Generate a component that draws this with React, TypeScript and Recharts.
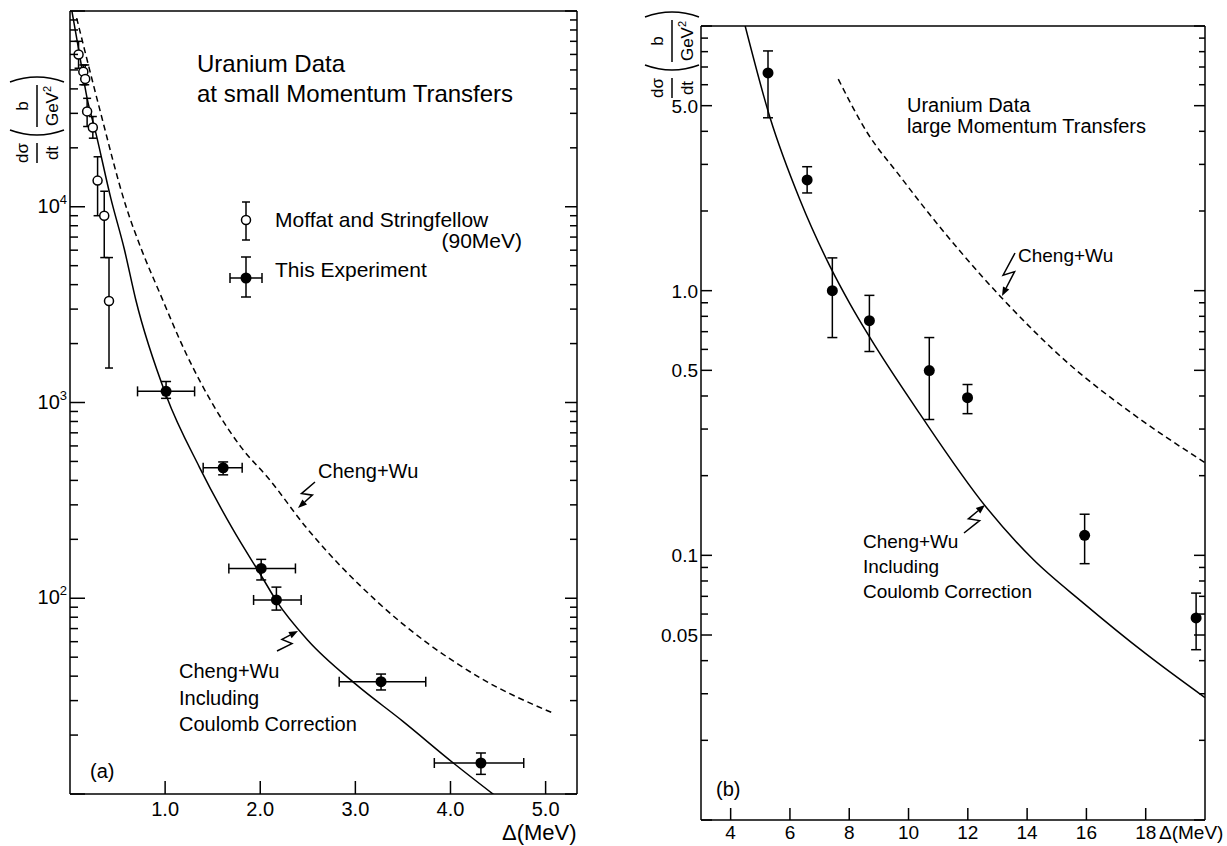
import React from "react";
import { ComposedChart, Line, Scatter, ErrorBar, XAxis, YAxis } from "recharts";

const FONT = "'Liberation Sans', Arial, sans-serif";

// ---- panel (a): small momentum transfers ----
const expAX = [1.01, 1.61, 2.01, 2.17, 3.27, 4.32];
const expAXLo = [0.71, 1.4, 1.67, 1.93, 2.83, 3.83];
const expAXHi = [1.31, 1.81, 2.37, 2.43, 3.74, 4.77];
const expAY = [1140, 464, 142, 98, 37.5, 14.4];
const expAYLo = [1050, 427, 124, 87, 34, 12.6];
const expAYHi = [1280, 497, 158, 114, 41, 16.2];

const moffatX = [0.09, 0.14, 0.16, 0.18, 0.24, 0.29, 0.36, 0.41];
const moffatY = [60000, 49000, 45000, 30700, 25400, 13600, 8990, 3300];
const moffatLo = [51000, 42000, 42000, 25700, 22400, 9000, 5500, 1500];
const moffatHi = [70000, 53000, 53000, 35800, 28900, 18000, 12000, 5500];

const coulombAX = [0.02, 0.09, 0.18, 0.27, 0.43, 0.57, 0.69, 1.01, 1.36, 1.71, 2.02, 2.17, 2.5, 3.0, 3.5, 4.03, 4.47];
const coulombAY = [100000, 64000, 35800, 24000, 11000, 6100, 3370, 1090, 468, 226, 128, 97, 61, 36.5, 23.5, 14.4, 9.8];
const chengWuAX = [0.07, 0.31, 0.59, 0.76, 0.94, 1.22, 1.54, 1.8, 2.09, 2.48, 3.22, 4.32, 5.07];
const chengWuAY = [92000, 31800, 10000, 5900, 3660, 1780, 910, 590, 408, 231, 97, 39, 26];

const xTicksA = [1, 2, 3, 4, 5];
const xLabelsA = ["1.0", "2.0", "3.0", "4.0", "5.0"];
const yDecadesA = [10, 100, 1000, 10000];
const yLabelsA = [100, 1000, 10000];

// ---- panel (b): large momentum transfers ----
const expBX = [5.26, 6.58, 7.43, 8.68, 10.7, 11.99, 15.94, 19.7];
const expBY = [6.65, 2.62, 1.0, 0.77, 0.499, 0.394, 0.119, 0.058];
const expBLo = [4.5, 2.34, 0.665, 0.589, 0.326, 0.343, 0.093, 0.044];
const expBHi = [8.05, 2.94, 1.33, 0.96, 0.665, 0.442, 0.143, 0.072];

const coulombBX = [4.49, 5.33, 6.34, 7.36, 8.03, 8.68, 10.4, 12.6, 14.2, 15.9, 18.0, 20.0];
const coulombBY = [10, 4.5, 2.2, 1.23, 0.89, 0.67, 0.34, 0.153, 0.0966, 0.066, 0.0425, 0.029];
const chengWuBX = [7.63, 8.61, 9.72, 10.4, 13.2, 15.36, 17.6, 20.0];
const chengWuBY = [6.3, 3.95, 2.7, 2.15, 0.925, 0.535, 0.34, 0.224];

const xTicksB = [4, 6, 8, 10, 12, 14, 16, 18];
const xLabelsB = ["4", "6", "8", "10", "12", "14", "16", "18"];
const yDecadesB = [0.01, 0.1, 1];
const yLabelValsB = [5, 1, 0.5, 0.1, 0.05];
const yLabelsB = ["5.0", "1.0", "0.5", "0.1", "0.05"];

const MANT = [1, 2, 3, 4, 5, 6, 7, 8, 9];
const yTicksA = [...yDecadesA.flatMap((d) => MANT.map((m) => m * d)), 100000];
const yTicksB = [...yDecadesB.flatMap((d) => MANT.map((m) => +(m * d).toPrecision(3))), 10];

const curve = (xs: number[], ys: number[]) => xs.map((x, i) => ({ x, y: ys[i] }));
const points = (xs: number[], ys: number[], lo: number[], hi: number[], xlo?: number[], xhi?: number[]) =>
  xs.map((x, i) => ({
    x,
    y: ys[i],
    ey: [ys[i] - lo[i], hi[i] - ys[i]],
    ex: xlo && xhi ? [x - xlo[i], xhi[i] - x] : [0, 0],
  }));

const near = (a: number, b: number) => Math.abs(a - b) <= Math.abs(b) * 1e-6;
const isDecade = (v: number) => near(v, Math.pow(10, Math.round(Math.log10(v))));

const filledDot = (p: any) => <circle cx={p.cx} cy={p.cy} r={5.5} fill="#000" />;
const openDot = (p: any) => <circle cx={p.cx} cy={p.cy} r={4.5} fill="#fff" stroke="#000" strokeWidth={1.5} />;

// inward ticks
const leftTickA = ({ x, y, payload }: any) => {
  const v = payload.value;
  const major = isDecade(v);
  const lab = yLabelsA.find((l) => near(l, v));
  return (
    <g>
      <line x1={x} y1={y} x2={x + (major ? 15 : 8)} y2={y} stroke="#000" strokeWidth={1.5} />
      {lab && (
        <text x={x - 3} y={y + 6} textAnchor="end" fontSize={20} fontFamily={FONT} fill="#000">
          10<tspan dy={-9} fontSize={13}>{Math.round(Math.log10(lab))}</tspan>
        </text>
      )}
    </g>
  );
};
const rightTickA = ({ x, y, payload }: any) => (
  <line x1={x} y1={y} x2={x - (isDecade(payload.value) ? 12 : 7)} y2={y} stroke="#000" strokeWidth={1.5} />
);
const leftTickB = ({ x, y, payload }: any) => {
  const v = payload.value;
  const idx = yLabelValsB.findIndex((l) => near(l, v));
  const major = isDecade(v) || idx >= 0;
  return (
    <g>
      <line x1={x} y1={y} x2={x + (major ? 11 : 7)} y2={y} stroke="#000" strokeWidth={1.5} />
      {idx >= 0 && (
        <text x={x - 3} y={y + 7} textAnchor="end" fontSize={19} fontFamily={FONT} fill="#000">
          {yLabelsB[idx]}
        </text>
      )}
    </g>
  );
};
const rightTickB = ({ x, y, payload }: any) => {
  const v = payload.value;
  const major = isDecade(v) || yLabelValsB.some((l) => near(l, v));
  return <line x1={x} y1={y} x2={x - (major ? 11 : 6)} y2={y} stroke="#000" strokeWidth={1.5} />;
};
const bottomTick = (ticks: number[], labels: string[], len: number, off: number, fs: number) => ({ x, y, payload }: any) => {
  const idx = ticks.findIndex((t) => near(t, payload.value));
  return (
    <g>
      <line x1={x} y1={y} x2={x} y2={y - len} stroke="#000" strokeWidth={1.5} />
      <text x={x} y={y + off} textAnchor="middle" fontSize={fs} fontFamily={FONT} fill="#000">
        {labels[idx]}
      </text>
    </g>
  );
};
const topTick = (len: number) => ({ x, y }: any) => (
  <line x1={x} y1={y} x2={x} y2={y + len} stroke="#000" strokeWidth={1.5} />
);

const AXIS_LINE = { stroke: "#000", strokeWidth: 1.5 };

function YTitle({ cx, cy }: { cx: number; cy: number }) {
  return (
    <g transform={`translate(${cx},${cy}) rotate(-90)`} fontSize={17} fontFamily={FONT} fill="#000">
      <text x={-32} y={-9} textAnchor="middle">dσ</text>
      <line x1={-42} y1={0} x2={-22} y2={0} stroke="#000" strokeWidth={1.5} />
      <text x={-32} y={21} textAnchor="middle">dt</text>
      <path d="M -9 -27 Q -19 0 -9 27" fill="none" stroke="#000" strokeWidth={1.5} />
      <text x={15} y={-9} textAnchor="middle">b</text>
      <line x1={-6} y1={0} x2={36} y2={0} stroke="#000" strokeWidth={1.5} />
      <text x={15} y={21} textAnchor="middle">
        GeV<tspan dy={-7} fontSize={11}>2</tspan>
      </text>
      <path d="M 39 -27 Q 49 0 39 27" fill="none" stroke="#000" strokeWidth={1.5} />
    </g>
  );
}

function Zigzag({ sx, sy, tx, ty }: { sx: number; sy: number; tx: number; ty: number }) {
  const dx = tx - sx;
  const dy = ty - sy;
  const L = Math.hypot(dx, dy);
  const nx = -dy / L;
  const ny = dx / L;
  const ax = sx + 0.55 * dx + nx * 5;
  const ay = sy + 0.55 * dy + ny * 5;
  const bx = sx + 0.4 * dx - nx * 5;
  const by = sy + 0.4 * dy - ny * 5;
  const hx = tx - bx;
  const hy = ty - by;
  const hl = Math.hypot(hx, hy);
  const hux = hx / hl;
  const huy = hy / hl;
  const baseX = tx - hux * 9;
  const baseY = ty - huy * 9;
  return (
    <g>
      <polyline points={`${sx},${sy} ${ax},${ay} ${bx},${by} ${baseX},${baseY}`} fill="none" stroke="#000" strokeWidth={1.5} />
      <polygon
        points={`${tx},${ty} ${baseX - huy * 3.5},${baseY + hux * 3.5} ${baseX + huy * 3.5},${baseY - hux * 3.5}`}
        fill="#000"
      />
    </g>
  );
}

export default function App() {
  const expA = points(expAX, expAY, expAYLo, expAYHi, expAXLo, expAXHi);
  const moffat = points(moffatX, moffatY, moffatLo, moffatHi);
  const expB = points(expBX, expBY, expBLo, expBHi);

  const txt = { fontFamily: FONT, fill: "#000" } as const;

  return (
    <div style={{ position: "relative", width: 1227, height: 846, background: "#fff", fontFamily: FONT }}>
      <style>{"body{margin:0}"}</style>

      <div style={{ position: "absolute", left: 0, top: 0 }}>
        <ComposedChart width={600} height={846} margin={{ top: 10, right: 22, bottom: 51, left: 69 }}>
          <XAxis xAxisId={0} type="number" dataKey="x" domain={[0, 5.33]} allowDataOverflow ticks={xTicksA}
            interval={0} height={1} tickSize={0} tickMargin={0} axisLine={AXIS_LINE} tickLine={false}
            tick={bottomTick(xTicksA, xLabelsA, 13, 22, 20)} />
          <XAxis xAxisId="top" orientation="top" type="number" domain={[0, 5.33]} allowDataOverflow ticks={xTicksA}
            interval={0} height={1} tickSize={0} tickMargin={0} axisLine={AXIS_LINE} tickLine={false} tick={topTick(14)} />
          <YAxis yAxisId={0} type="number" dataKey="y" scale="log" domain={[10, 100000]} allowDataOverflow ticks={yTicksA}
            interval={0} width={1} tickSize={0} tickMargin={0} axisLine={AXIS_LINE} tickLine={false} tick={leftTickA} />
          <YAxis yAxisId="right" orientation="right" type="number" scale="log" domain={[10, 100000]} allowDataOverflow
            ticks={yTicksA} interval={0} width={1} tickSize={0} tickMargin={0} axisLine={AXIS_LINE} tickLine={false}
            tick={rightTickA} />
          <Line data={curve(chengWuAX, chengWuAY)} dataKey="y" type="monotone" dot={false} stroke="#000"
            strokeWidth={1.5} strokeDasharray="6 4" isAnimationActive={false} />
          <Line data={curve(coulombAX, coulombAY)} dataKey="y" type="monotone" dot={false} stroke="#000"
            strokeWidth={1.5} isAnimationActive={false} />
          <Scatter data={moffat} dataKey="y" shape={openDot} isAnimationActive={false}>
            <ErrorBar dataKey="ey" direction="y" width={4} stroke="#000" strokeWidth={1.5} isAnimationActive={false} />
          </Scatter>
          <Scatter data={expA} dataKey="y" shape={filledDot} isAnimationActive={false}>
            <ErrorBar dataKey="ey" direction="y" width={5} stroke="#000" strokeWidth={1.5} isAnimationActive={false} />
            <ErrorBar dataKey="ex" direction="x" width={5} stroke="#000" strokeWidth={1.5} isAnimationActive={false} />
          </Scatter>
        </ComposedChart>
      </div>

      <div style={{ position: "absolute", left: 620, top: 0 }}>
        <ComposedChart width={607} height={846} margin={{ top: 25, right: 21, bottom: 25, left: 80 }}>
          <XAxis xAxisId={0} type="number" dataKey="x" domain={[3, 20]} allowDataOverflow ticks={xTicksB}
            interval={0} height={1} tickSize={0} tickMargin={0} axisLine={AXIS_LINE} tickLine={false}
            tick={bottomTick(xTicksB, xLabelsB, 12, 19, 19)} />
          <XAxis xAxisId="top" orientation="top" type="number" domain={[3, 20]} allowDataOverflow ticks={xTicksB}
            interval={0} height={1} tickSize={0} tickMargin={0} axisLine={AXIS_LINE} tickLine={false} tick={topTick(12)} />
          <YAxis yAxisId={0} type="number" dataKey="y" scale="log" domain={[0.01, 10]} allowDataOverflow ticks={yTicksB}
            interval={0} width={1} tickSize={0} tickMargin={0} axisLine={AXIS_LINE} tickLine={false} tick={leftTickB} />
          <YAxis yAxisId="right" orientation="right" type="number" scale="log" domain={[0.01, 10]} allowDataOverflow
            ticks={yTicksB} interval={0} width={1} tickSize={0} tickMargin={0} axisLine={AXIS_LINE} tickLine={false}
            tick={rightTickB} />
          <Line data={curve(chengWuBX, chengWuBY)} dataKey="y" type="monotone" dot={false} stroke="#000"
            strokeWidth={1.5} strokeDasharray="6 4" isAnimationActive={false} />
          <Line data={curve(coulombBX, coulombBY)} dataKey="y" type="monotone" dot={false} stroke="#000"
            strokeWidth={1.5} isAnimationActive={false} />
          <Scatter data={expB} dataKey="y" shape={filledDot} isAnimationActive={false}>
            <ErrorBar dataKey="ey" direction="y" width={5} stroke="#000" strokeWidth={1.5} isAnimationActive={false} />
          </Scatter>
        </ComposedChart>
      </div>

      <svg width={1227} height={846} style={{ position: "absolute", left: 0, top: 0, pointerEvents: "none" }}>
        <YTitle cx={37} cy={121} />
        <YTitle cx={672} cy={56} />

        {/* panel (a) annotations */}
        <text x={197} y={72} fontSize={24} {...txt}>Uranium Data</text>
        <text x={197} y={102} fontSize={24} {...txt}>at small Momentum Transfers</text>

        <line x1={246} y1={202} x2={246} y2={240} stroke="#000" strokeWidth={1.5} />
        <line x1={242} y1={202} x2={250} y2={202} stroke="#000" strokeWidth={1.5} />
        <line x1={242} y1={240} x2={250} y2={240} stroke="#000" strokeWidth={1.5} />
        <circle cx={246} cy={220} r={4.5} fill="#fff" stroke="#000" strokeWidth={1.5} />
        <text x={275} y={227} fontSize={21} {...txt}>Moffat and Stringfellow</text>
        <text x={522} y={248} fontSize={21} textAnchor="end" {...txt}>(90MeV)</text>

        <line x1={230} y1={278} x2={262} y2={278} stroke="#000" strokeWidth={1.5} />
        <line x1={230} y1={273} x2={230} y2={283} stroke="#000" strokeWidth={1.5} />
        <line x1={262} y1={273} x2={262} y2={283} stroke="#000" strokeWidth={1.5} />
        <line x1={246} y1={257} x2={246} y2={297} stroke="#000" strokeWidth={1.5} />
        <line x1={241} y1={257} x2={251} y2={257} stroke="#000" strokeWidth={1.5} />
        <line x1={241} y1={297} x2={251} y2={297} stroke="#000" strokeWidth={1.5} />
        <circle cx={246} cy={278} r={5.5} fill="#000" />
        <text x={275} y={277} fontSize={21} {...txt}>This Experiment</text>

        <text x={318} y={478} fontSize={20} {...txt}>Cheng+Wu</text>
        <Zigzag sx={315} sy={482} tx={298} ty={508} />

        <text x={179} y={678} fontSize={20} {...txt}>Cheng+Wu</text>
        <text x={179} y={705} fontSize={20} {...txt}>Including</text>
        <text x={179} y={731} fontSize={20} {...txt}>Coulomb Correction</text>
        <Zigzag sx={277} sy={651} tx={298} ty={631} />

        <text x={90} y={778} fontSize={20} {...txt}>(a)</text>
        <text x={502} y={840} fontSize={22} {...txt}>Δ(MeV)</text>

        {/* panel (b) annotations */}
        <text x={907} y={112} fontSize={20} {...txt}>Uranium Data</text>
        <text x={907} y={133} fontSize={20} {...txt}>large Momentum Transfers</text>

        <text x={1018} y={262} fontSize={19} {...txt}>Cheng+Wu</text>
        <Zigzag sx={1015} sy={253} tx={1002} ty={296} />

        <text x={863} y={548} fontSize={19} {...txt}>Cheng+Wu</text>
        <text x={863} y={573} fontSize={19} {...txt}>Including</text>
        <text x={863} y={598} fontSize={19} {...txt}>Coulomb Correction</text>
        <Zigzag sx={964} sy={533} tx={985} ty={505} />

        <text x={716} y={796} fontSize={20} {...txt}>(b)</text>
        <text x={1159} y={839} fontSize={19} {...txt}>Δ(MeV)</text>
      </svg>
    </div>
  );
}
